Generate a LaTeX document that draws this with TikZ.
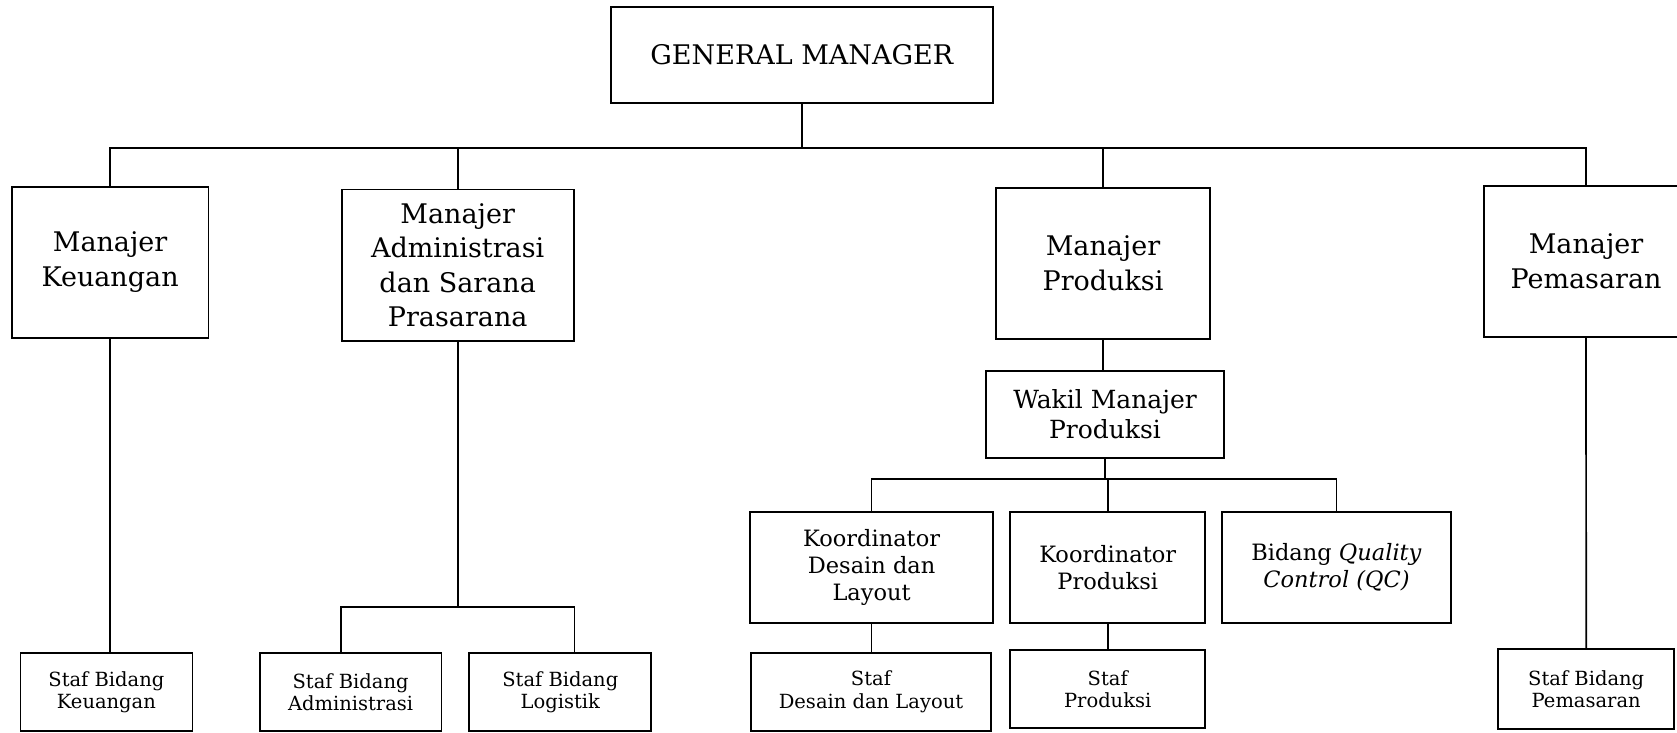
\documentclass[tikz,border=0pt]{standalone}
\usepackage{fontspec}
\setmainfont{DejaVu Serif}

\begin{document}
\begin{tikzpicture}[x=1pt,y=-1pt,line width=1.7pt,
    box/.style={draw,align=center,inner sep=0pt},
    gmbox/.style={box,font=\fontsize{27}{32}\selectfont},
    mgrbox/.style={box,minimum height=151.6pt,font=\fontsize{27}{32}\selectfont},
    wakilbox/.style={box,font=\fontsize{25}{30}\selectfont},
    korbox/.style={box,minimum height=110.7pt,font=\fontsize{22.5}{27}\selectfont},
    stafbox/.style={box,minimum height=78pt,font=\fontsize{19.5}{22.5}\selectfont}]
    \useasboundingbox (0,0) rectangle (1677,732);
    \node[gmbox,minimum width=382pt,minimum height=96.6pt](gm) at (801.8,55) {GENERAL MANAGER};
    \node[mgrbox,minimum width=196.6pt](keu) at (110.1,262.5) {Manajer\\[3pt]Keuangan};
    \node[mgrbox,minimum width=232pt](adm) at (457.7,265.2) {Manajer\\[2.5pt]Administrasi\\[2.5pt]dan Sarana\\[2.5pt]Prasarana};
    \node[mgrbox,minimum width=214.6pt](prod) at (1103,263.5) {Manajer\\[3pt]Produksi};
    \node[mgrbox,minimum width=204pt](pem) at (1586,261.5) {Manajer\\[3pt]Pemasaran};
    \node[wakilbox,minimum width=238pt,minimum height=87.6pt](wakil) at (1105,414.5) {Wakil Manajer\\Produksi};
    \node[korbox,minimum width=243pt](kdes) at (871.6,567.4) {Koordinator\\Desain dan\\Layout};
    \node[korbox,minimum width=194.8pt](kprod) at (1107.7,567.4) {Koordinator\\Produksi};
    \node[korbox,minimum width=229.5pt](qc) at (1336.5,567.4) {Bidang \textit{Quality}\\\textit{Control (QC)}};
    \node[stafbox,minimum width=172pt](skeu) at (106.4,692) {Staf Bidang\\Keuangan};
    \node[stafbox,minimum width=181.6pt](sadm) at (350.6,692) {Staf Bidang\\Administrasi};
    \node[stafbox,minimum width=182pt](slog) at (560.3,692) {Staf Bidang\\Logistik};
    \node[stafbox,minimum width=240pt](sdes) at (871,691.7) {Staf\\Desain dan Layout};
    \node[stafbox,minimum width=195pt](sprod) at (1107.7,689.2) {Staf\\Produksi};
    \node[stafbox,minimum width=176pt,minimum height=80pt](spem) at (1586.2,689.3) {Staf Bidang\\Pemasaran};
    \coordinate (bus) at (801.8,148.3);
    \coordinate (abus) at (457.7,606.7);
    \coordinate (pbus) at (1105,479);
    \draw (gm.south)--(bus);
    \draw (keu.north)|-(bus)-|(pem.north);
    \draw (adm.north)--(adm.north|-bus);
    \draw (prod.north)--(prod.north|-bus);
    \draw (keu.south)--(keu.south|-skeu.north);
    \draw (adm.south)--(abus);
    \draw (sadm.north-|adm.west)|-(abus)-|(slog.north-|adm.east);
    \draw (prod.south)--(prod.south|-wakil.north);
    \draw (wakil.south)--(pbus);
    \draw (kdes.north)|-(pbus)-|(qc.north);
    \draw (kprod.north)--(kprod.north|-pbus);
    \draw (kdes.south)--(kdes.south|-sdes.north);
    \draw (kprod.south)--(kprod.south|-sprod.north);
    \draw (pem.south)--(spem.north);
\end{tikzpicture}
\end{document}
